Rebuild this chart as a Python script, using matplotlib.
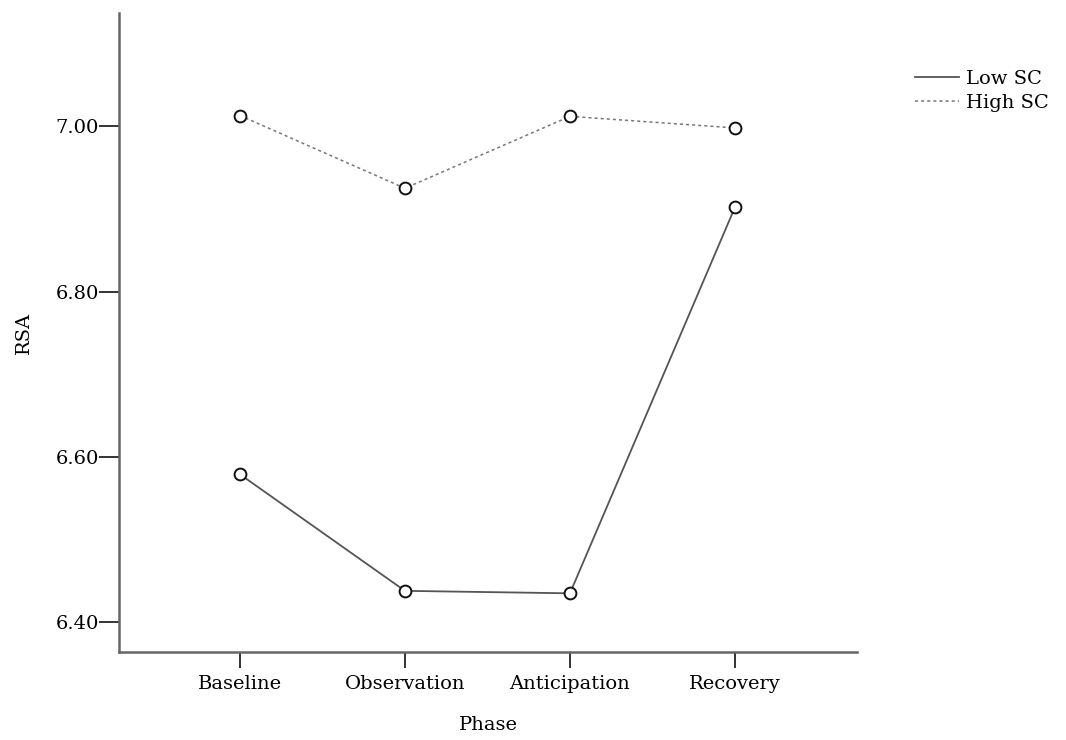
import matplotlib
matplotlib.use("Agg")
import matplotlib.pyplot as plt

# Mean RSA per experimental phase for the two SC groups
phases = ["Baseline", "Observation", "Anticipation", "Recovery"]
low_sc = [6.579, 6.438, 6.435, 6.902]
high_sc = [7.013, 6.925, 7.012, 6.998]
y_ticks = [6.40, 6.60, 6.80, 7.00]

plt.rcParams["font.family"] = ["DejaVu Serif"]

fig = plt.figure(figsize=(10.66, 7.40), dpi=100)
ax = fig.add_axes([0.1116, 0.1189, 0.804 - 0.1116, 0.9824 - 0.1189])

x = list(range(len(phases)))
marker_kw = dict(marker="o", markersize=8.5, markerfacecolor="white",
                 markeredgecolor="#111111", markeredgewidth=1.4)
low_style = dict(color="#555555", linewidth=1.3, linestyle="-")
high_style = dict(color="#777777", linewidth=1.1, linestyle=(0, (2, 2)))

ax.plot(x, low_sc, label="Low SC", **low_style, **marker_kw)
ax.plot(x, high_sc, label="High SC", **high_style, **marker_kw)

ax.set_xlim(-0.733, 3.74)
ax.set_ylim(6.364, 7.137)
ax.set_xticks(x)
ax.set_xticklabels(phases)
ax.set_yticks(y_ticks)
ax.set_yticklabels([f"{v:.2f}" for v in y_ticks])

for side in ("top", "right"):
    ax.spines[side].set_visible(False)
for side in ("left", "bottom"):
    ax.spines[side].set_color("#666666")
    ax.spines[side].set_linewidth(1.8)

ax.tick_params(axis="y", direction="out", length=14.5, width=1.4,
               color="#333333", labelsize=14, pad=0)
ax.tick_params(axis="x", direction="out", length=11.5, width=1.4,
               color="#333333", labelsize=14, pad=5)

ax.set_xlabel("Phase", fontsize=14)
ax.set_ylabel("RSA", fontsize=14)
ax.xaxis.set_label_coords(0.5, -0.100)
ax.yaxis.set_label_coords(-0.117, 0.5)

handles = [plt.Line2D([], [], **low_style), plt.Line2D([], [], **high_style)]
fig.legend(handles, ["Low SC", "High SC"], loc="upper left",
           bbox_to_anchor=(0.858, 0.905), frameon=False, fontsize=14,
           handlelength=2.3, handletextpad=0.36, labelspacing=0.3,
           borderpad=0, borderaxespad=0)

fig.savefig("out.png", dpi=100, facecolor="white")
